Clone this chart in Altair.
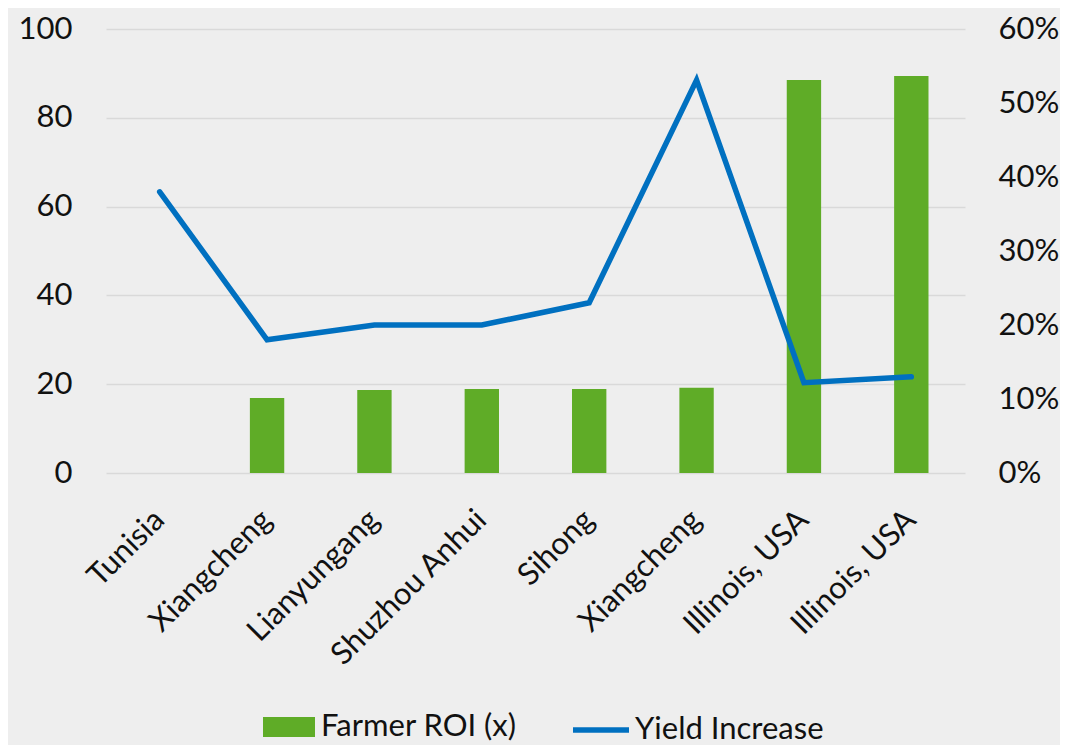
import altair as alt
import pandas as pd

categories = ["Tunisia", "Xiangcheng", "Lianyungang", "Shuzhou Anhui",
              "Sihong", "Xiangcheng", "Illinois, USA", "Illinois, USA"]
farmer_roi = [None, 16.9, 18.7, 18.9, 18.9, 19.2, 88.5, 89.4]
yield_increase = [0.38, 0.18, 0.20, 0.20, 0.23, 0.531, 0.122, 0.13]

left_ticks = [0, 20, 40, 60, 80, 100]
right_ticks = [0, 0.1, 0.2, 0.3, 0.4, 0.5, 0.6]

GREEN = "#5fac27"
BLUE = "#0070c0"
BG = "#eeeeee"
FONT = "Lato"
FS = 31

keys = [f"{i}|{c}" for i, c in enumerate(categories)]
df = pd.DataFrame({
    "key": keys,
    "roi": farmer_roi,
    "yld": yield_increase,
    "s1": "Farmer ROI (x)",
    "s2": "Yield Increase",
})

base = alt.Chart(df).encode(
    x=alt.X(
        "key:N", sort=keys, title=None,
        scale=alt.Scale(domain=keys, paddingInner=0.68, paddingOuter=0.34),
        axis=alt.Axis(
            labelExpr="split(datum.value, '|')[1]",
            labelAngle=-45, labelAlign="right", labelBaseline="middle",
            labelFontSize=FS, labelPadding=42, labelColor="#111111",
            labelLimit=400, labelOverlap=False,
            domain=False, ticks=False, tickSize=0, grid=False,
        ),
    )
)

bars = base.mark_bar().encode(
    y=alt.Y(
        "roi:Q", title=None,
        scale=alt.Scale(domain=[0, 100], nice=False, zero=True),
        axis=alt.Axis(
            values=left_ticks, orient="left", domain=False, ticks=False, tickSize=0,
            labelFontSize=FS, labelPadding=34, labelColor="#111111",
            grid=True, gridColor="#d9d9d9", gridWidth=1.5,
        ),
    ),
    fill=alt.Fill(
        "s1:N",
        scale=alt.Scale(domain=["Farmer ROI (x)"], range=[GREEN]),
        legend=alt.Legend(
            title=None, orient="none", legendX=157, legendY=672,
            symbolType="M-1,-0.385H1V0.385H-1Z", symbolSize=2704,
            symbolStrokeWidth=0, labelFontSize=FS, labelColor="#111111",
            labelOffset=6, labelLimit=400, padding=0,
        ),
    ),
)

line = base.mark_line(strokeWidth=5.5, strokeCap="round").encode(
    y=alt.Y(
        "yld:Q", title=None,
        scale=alt.Scale(domain=[0, 0.6], nice=False, zero=True),
        axis=alt.Axis(
            values=right_ticks, orient="right", format=".0%", domain=False,
            ticks=False, tickSize=0, grid=False,
            labelFontSize=FS, labelPadding=33, labelColor="#111111",
        ),
    ),
    stroke=alt.Stroke(
        "s2:N",
        scale=alt.Scale(domain=["Yield Increase"], range=[BLUE]),
        legend=alt.Legend(
            title=None, orient="none", legendX=464, legendY=670,
            symbolType="stroke", symbolSize=3136, symbolStrokeWidth=5.5,
            labelFontSize=FS, labelColor="#111111", labelOffset=3,
            labelLimit=400, padding=0,
        ),
    ),
)

chart = (
    alt.layer(bars, line)
    .resolve_scale(y="independent", fill="independent", stroke="independent")
    .properties(
        width=859, height=444, background=BG,
        autosize=alt.AutoSizeParams(type="none"),
        padding={"left": 98, "top": 21, "right": 95, "bottom": 272},
    )
    .configure(font=FONT)
    .configure_view(stroke=None, fill=BG)
)

chart.save("out.html", embed_options={"renderer": "svg", "actions": False})
